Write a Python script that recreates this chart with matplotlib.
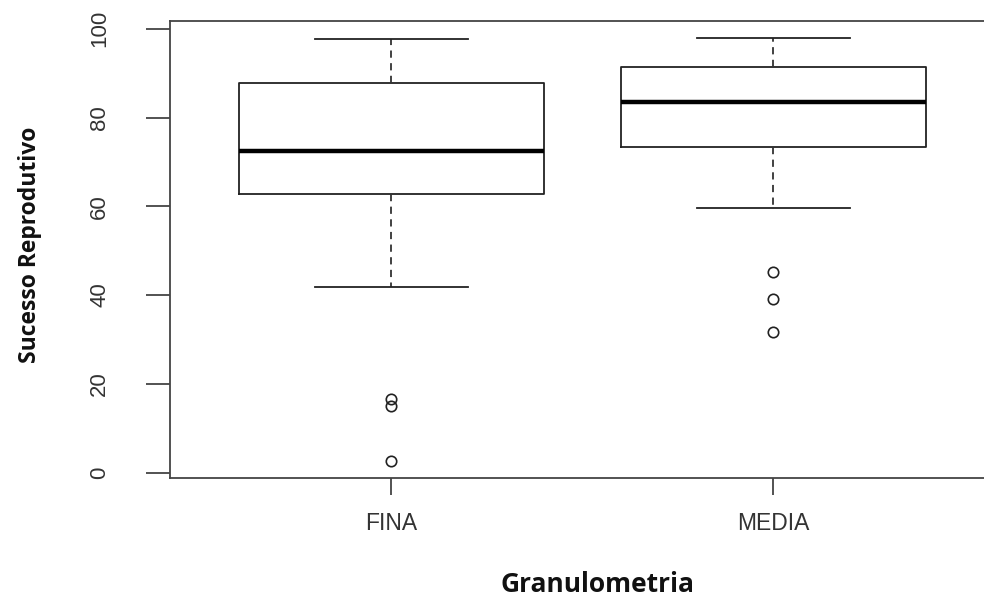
import matplotlib
matplotlib.use("Agg")
import matplotlib.pyplot as plt

grupos = ["FINA", "MEDIA"]
whislo = [41.7, 59.5]
q1 = [62.8, 73.4]
med = [72.5, 83.4]
q3 = [87.7, 91.3]
whishi = [97.7, 97.9]
outliers = [[16.5, 15.1, 2.5], [45.1, 39.1, 31.6]]


def main():
    stats = []
    for i in range(len(grupos)):
        stats.append({"label": grupos[i], "whislo": whislo[i], "q1": q1[i],
                      "med": med[i], "q3": q3[i], "whishi": whishi[i],
                      "fliers": outliers[i]})

    fig = plt.figure(figsize=(9.84, 6.04), dpi=100)
    ax = fig.add_axes([0.1728, 0.208, 0.838, 0.757])

    ax.bxp(stats, positions=[1, 2], widths=0.8, patch_artist=False,
           boxprops=dict(color="#222222", linewidth=1.3),
           medianprops=dict(color="black", linewidth=3.2),
           whiskerprops=dict(color="#333333", linewidth=1.3, linestyle=(0, (4, 3))),
           capprops=dict(color="#222222", linewidth=1.3),
           capwidths=0.4,
           flierprops=dict(marker="o", markerfacecolor="none",
                           markeredgecolor="#222222", markersize=7.5,
                           markeredgewidth=1.2, linestyle="none"))

    ax.set_xlim(0.42, 2.58)
    ax.set_ylim(-1.32, 101.72)
    ax.set_yticks([0, 20, 40, 60, 80, 100])
    ax.set_xticks([1, 2])
    ax.set_xticklabels(grupos)

    for s in ax.spines.values():
        s.set_color("#444444")
        s.set_linewidth(1.3)

    ax.tick_params(axis="both", colors="#444444", width=1.3,
                   labelcolor="#333333")
    ax.tick_params(axis="y", length=17, pad=26, labelsize=16)
    ax.tick_params(axis="x", length=12, pad=12, labelsize=16.5)
    for t in ax.get_yticklabels():
        t.set_rotation(90)
        t.set_va("center")
        t.set_family(["Liberation Sans Narrow", "Liberation Sans"])
    for t in ax.get_xticklabels():
        t.set_family(["Liberation Sans", "DejaVu Sans"])

    fig.text(598 / 984, 1 - 584 / 604, "Granulometria", ha="center", va="center",
             fontsize=19, fontweight="bold", family=["Open Sans", "DejaVu Sans"],
             color="#111111")
    fig.text(30 / 984, 1 - 245 / 604, "Sucesso Reprodutivo", ha="center",
             va="center", rotation=90, fontsize=16.5, fontweight="bold",
             family=["Open Sans", "DejaVu Sans"], color="#111111")

    fig.savefig("out.png", dpi=100)


if __name__ == "__main__":
    main()
